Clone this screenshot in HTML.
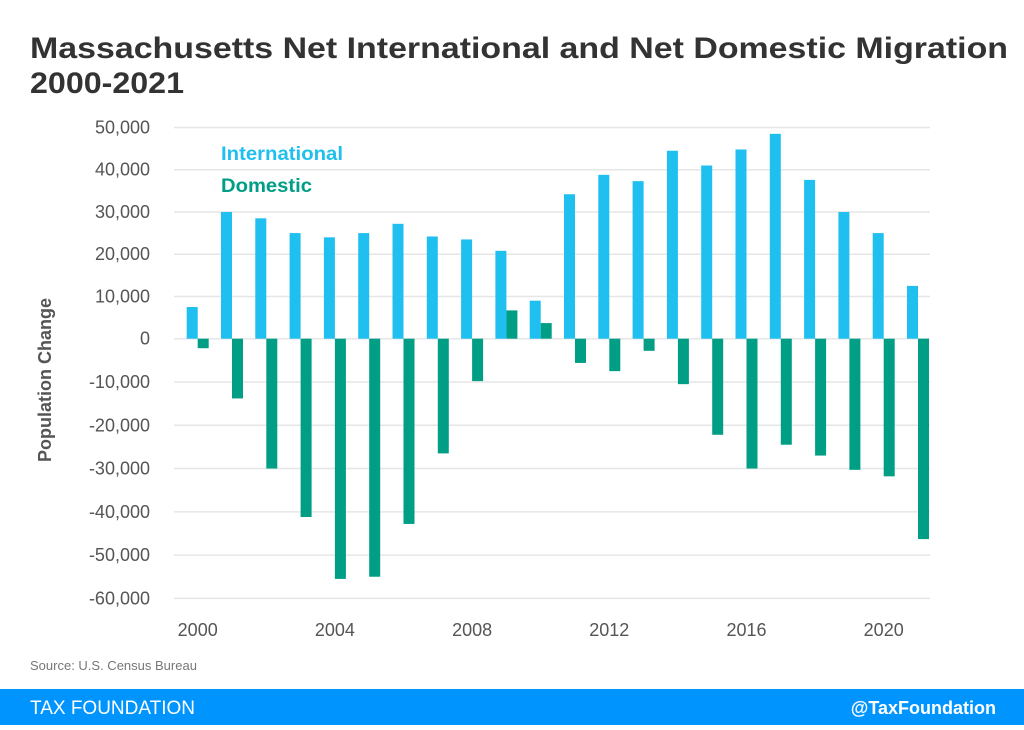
<!DOCTYPE html>
<html><head><meta charset="utf-8"><style>
body{margin:0;width:1024px;height:725px;background:#fff;overflow:hidden;font-family:"Liberation Sans",sans-serif}
</style></head><body>
<svg id="s" width="1024" height="725" xmlns="http://www.w3.org/2000/svg" font-family="Liberation Sans, sans-serif">
<text x="30" y="58" font-size="30" font-weight="bold" fill="#333" textLength="978" lengthAdjust="spacingAndGlyphs">Massachusetts Net International and Net Domestic Migration</text>
<text x="30" y="93" font-size="30" font-weight="bold" fill="#333" textLength="154" lengthAdjust="spacingAndGlyphs">2000-2021</text>
<text transform="translate(51,380) rotate(-90)" text-anchor="middle" font-size="18" font-weight="bold" fill="#555">Population Change</text>
<text x="221" y="160" font-size="19" font-weight="bold" fill="#1fbff0" textLength="122" lengthAdjust="spacingAndGlyphs">International</text>
<text x="221" y="192" font-size="19" font-weight="bold" fill="#009e85" textLength="91" lengthAdjust="spacingAndGlyphs">Domestic</text>
<text x="30" y="670" font-size="13" fill="#777">Source: U.S. Census Bureau</text>
<rect x="0" y="689" width="1024" height="36" fill="#0094ff"/>
<text x="30" y="714" font-size="19" fill="#fff">TAX FOUNDATION</text>
<text x="996" y="714" font-size="18" font-weight="bold" fill="#fff" text-anchor="end">@TaxFoundation</text>
<g id="g"></g>
</svg>
<script>
var g=document.getElementById('g'),h='';
function Y(v){return v>=0?338.7-v*0.004224:338.7-v*0.004328;}
for(var v=50000;v>=-60000;v-=10000){var y=Y(v);
h+='<line x1="174" x2="930" y1="'+y+'" y2="'+y+'" stroke="#e6e6e6" stroke-width="1.5"/>';
h+='<text x="150" y="'+(y+6)+'" font-size="18" fill="#555" text-anchor="end">'+(v<0?'-':'')+(v==0?'0':Math.abs(v).toLocaleString('en-US'))+'</text>';}
var I=[7500,30000,28500,25000,24000,25000,27200,24200,23500,20800,9000,34200,38800,37300,44500,41000,44800,48500,37600,30000,25000,12500];
var D=[-2200,-13800,-30000,-41200,-55500,-55000,-42800,-26500,-9800,6700,3700,-5600,-7500,-2800,-10500,-22200,-30000,-24500,-27000,-30300,-31800,-46300];
for(var i=0;i<22;i++){var x=186.7+i*34.3;
var a=Y(I[i]);h+='<rect x="'+x+'" y="'+a+'" width="11" height="'+(338.7-a)+'" fill="#1fbff0"/>';
var b=Y(D[i]);h+='<rect x="'+(x+11)+'" y="'+Math.min(b,338.7)+'" width="11" height="'+Math.abs(b-338.7)+'" fill="#009e85"/>';
if(i%4==0)h+='<text x="'+(x+11)+'" y="636" font-size="18" fill="#555" text-anchor="middle">'+(2000+i)+'</text>';}
g.innerHTML=h;
</script>
</body></html>
